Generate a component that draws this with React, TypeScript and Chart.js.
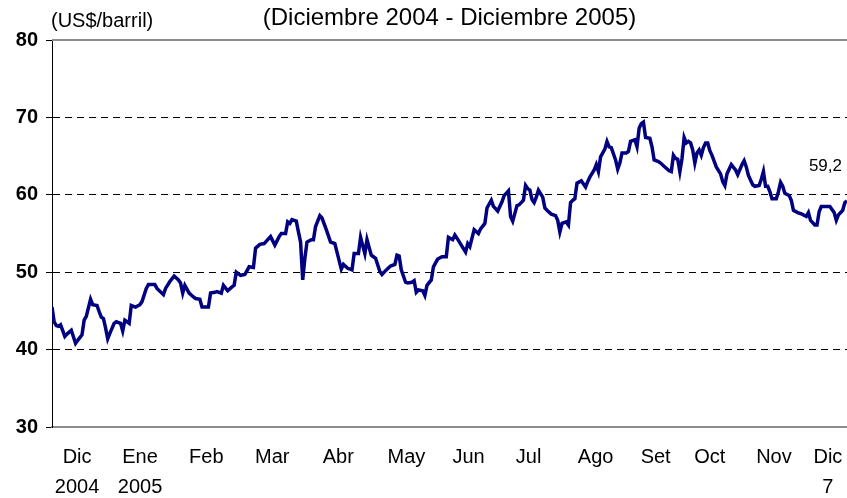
import React, { useEffect, useRef } from 'react';
import { Chart, registerables } from 'chart.js';

Chart.register(...registerables);

// Días transcurridos desde el 1-dic-2004
const dias = [
  0, 1, 2, 3, 4, 6, 7, 9, 11, 12, 14, 15, 16, 18, 19, 21, 22, 23, 24, 25, 26, 27, 29, 30, 32, 33, 34, 36, 37, 39,
  41, 42, 44, 45, 48, 49, 52, 53, 55, 57, 59, 60, 61, 62, 64, 66, 67, 69, 70, 73,
  74, 76, 77, 79, 80, 82, 84, 85, 86, 88, 90, 92, 94, 95, 97, 99, 101, 102, 104, 106, 107, 109, 110, 111, 112, 114,
  115, 116, 117, 118, 119, 121, 122, 123, 125, 126, 128, 130, 132, 133, 135, 136, 138, 140, 141, 143, 144, 146, 147,
  149, 150, 151, 153, 154, 156, 158, 160, 161, 162, 163, 165, 166, 168, 169, 170, 171, 173, 174, 175, 177, 178, 179,
  180, 182, 184, 185, 187, 188, 189, 191, 193, 194, 195, 196, 197, 199, 200, 202, 203, 205, 206, 208, 210, 211, 213,
  214, 215, 217, 218, 220, 221, 222, 223, 224, 225, 226, 227, 229, 230, 231, 233, 235, 236, 237, 238, 240, 241, 242,
  243, 244, 245, 247, 249, 250, 251, 253, 254, 255, 256, 258, 259, 260, 261, 263, 264, 265, 266, 268, 269, 270, 272,
  273, 274, 275, 276, 277, 279, 280, 281, 283, 284, 286, 288, 289, 290, 291, 292, 293, 294, 295, 296, 297, 298, 299,
  300, 301, 302, 303, 304, 305, 306, 307, 308, 310, 312, 313, 314, 315, 317, 319, 320, 322, 323, 324, 325, 327, 328,
  330, 331, 332, 333, 334, 335, 336, 338, 339, 340, 341, 342, 344, 345, 346, 348, 350, 352, 353, 354, 356, 357, 358,
  359, 361, 363, 365, 366, 367, 369, 370, 371,
];

// Precio del petróleo (US$/barril)
const precios = [
  45.5, 43.6, 43.1, 43.0, 43.2, 41.7, 42.0, 42.5, 40.8, 41.2, 41.9, 43.8, 44.3, 46.5, 45.8, 45.7, 44.9, 44.2, 44.0, 42.8,
  41.4, 42.1, 43.4, 43.6, 43.4, 42.4, 43.8, 43.4, 45.7, 45.5,
  45.8, 46.2, 47.9, 48.4, 48.4, 47.9, 47.1, 47.9, 48.8, 49.5, 49.0, 48.6, 47.3, 48.3, 47.3, 46.8, 46.6, 46.5, 45.5, 45.5,
  47.3, 47.4, 47.5, 47.3, 48.3, 47.6, 48.1, 48.3, 50.0, 49.6, 49.7, 50.7, 50.6, 53.1, 53.6, 53.7, 54.3, 54.6, 53.5, 54.6,
  55.0, 55.0, 56.5, 56.3, 56.8, 56.6,
  55.2, 53.9, 49.0, 51.8, 53.9, 54.2, 54.2, 55.9, 57.3, 57.0, 55.5, 53.9, 53.7, 52.6, 50.4, 51.0, 50.5, 50.3, 52.4, 52.4,
  54.5, 52.4, 54.2,
  52.2, 52.0, 51.8, 50.1, 49.7, 50.3, 50.8, 51.0, 52.2, 52.1, 50.3, 48.7, 48.6, 48.7, 48.9, 47.4, 47.7, 47.6, 47.0, 48.3,
  49.0, 50.7, 51.2,
  51.7, 52.0, 52.0, 54.5, 54.2, 54.8, 54.4, 53.5, 52.6, 53.7, 53.3, 54.4, 55.5, 55.0, 55.6, 56.3, 58.3, 59.3, 58.5, 57.9,
  59.1, 59.9, 60.5,
  57.2, 56.6, 58.6, 58.7, 59.3, 61.2, 60.8, 60.6, 59.4, 59.0, 59.7, 60.6, 59.7, 58.3, 58.0, 57.5, 57.3, 56.7, 55.2, 56.3,
  56.5, 56.1, 59.0,
  59.3, 59.5, 61.5, 61.8, 61.0, 61.7, 62.3, 63.2, 63.9, 63.0, 64.9, 65.9, 66.9, 66.2, 66.1, 64.5, 63.3, 64.1, 65.4, 65.4,
  65.6, 66.9, 67.1,
  66.2, 68.6, 69.2, 69.4, 67.4, 67.3, 66.2, 64.5, 64.3, 64.1, 63.6, 63.1, 63.0, 65.1, 64.7, 64.6, 63.0, 64.7, 67.4, 66.7,
  66.9, 66.7, 65.8,
  64.1, 65.4, 65.8, 65.1, 66.1, 66.7, 66.7, 65.7, 65.1, 63.6, 62.7, 61.7, 61.2, 62.7, 63.9, 63.2, 62.6, 63.9, 64.4, 63.6,
  62.5, 61.3, 61.1,
  61.2, 62.0, 63.0, 61.1, 61.1, 60.4, 59.5, 59.5, 60.4, 61.6, 61.1, 60.2, 59.9, 59.3, 58.0, 57.7, 57.5, 57.2, 57.7, 56.7,
  56.1, 56.1, 57.8,
  58.5, 58.5, 58.5, 57.7, 56.7, 57.4, 58.0, 59.0, 59.2,
];

// Marcas del eje X (día) y sus etiquetas
const mesesDia = [11.7, 41.1, 72.0, 102.8, 133.6, 165.4, 194.4, 222.4, 253.7, 281.7, 307.0, 336.9, 362.1];
const mesesEtiqueta = [
  ['Dic', '2004'], ['Ene', '2005'], ['Feb'], ['Mar'], ['Abr'], ['May'], ['Jun'],
  ['Jul'], ['Ago'], ['Set'], ['Oct'], ['Nov'], ['Dic', '7'],
];

const yMin = 30;
const yMax = 80;
const yPaso = 10;

const titulo = '(Diciembre 2004 - Diciembre 2005)';
const unidad = '(US$/barril)';
const etiquetaUltimo = '59,2';

const FONT = '"Liberation Sans", Arial, sans-serif';

const textos = {
  id: 'textos',
  beforeDatasetsDraw(chart: any) {
    const { ctx, chartArea, scales } = chart;
    const yt = scales.y.getPixelForValue(yMax);
    ctx.save();
    ctx.strokeStyle = '#8c8c8c';
    ctx.lineWidth = 2;
    ctx.beginPath();
    ctx.moveTo(chartArea.left, yt);
    ctx.lineTo(chartArea.right, yt);
    ctx.stroke();
    ctx.restore();
  },
  afterDraw(chart: any) {
    const { ctx, chartArea, scales } = chart;
    ctx.save();
    ctx.fillStyle = '#000';
    ctx.textBaseline = 'middle';
    ctx.font = `24px ${FONT}`;
    ctx.textAlign = 'center';
    ctx.fillText(titulo, (chartArea.left + chartArea.right) / 2, 18);
    ctx.font = `20px ${FONT}`;
    ctx.textAlign = 'left';
    ctx.fillText(unidad, chartArea.left - 1, 21);
    const n = dias.length - 1;
    const lx = scales.x.getPixelForValue(dias[n]);
    const ly = scales.y.getPixelForValue(precios[n]);
    ctx.font = `17px ${FONT}`;
    ctx.textAlign = 'right';
    ctx.fillText(etiquetaUltimo, lx - 5, ly - 35);
    ctx.restore();
  },
};

export default function App() {
  const ref = useRef<HTMLCanvasElement>(null);

  useEffect(() => {
    const chart = new Chart(ref.current as HTMLCanvasElement, {
      type: 'line',
      data: {
        datasets: [
          {
            data: dias.map((d, i) => ({ x: d, y: precios[i] })),
            borderColor: '#000080',
            borderWidth: 3.5,
            pointRadius: 0,
            tension: 0,
            fill: false,
          },
        ],
      },
      options: {
        animation: false,
        responsive: false,
        maintainAspectRatio: false,
        devicePixelRatio: 1,
        layout: { padding: { top: 40, left: 0, right: 0, bottom: 0 } },
        plugins: { legend: { display: false }, tooltip: { enabled: false }, title: { display: false } },
        scales: {
          x: {
            type: 'linear',
            min: 0,
            max: dias[dias.length - 1],
            afterBuildTicks: (s: any) => {
              s.ticks = mesesDia.map((v) => ({ value: v }));
            },
            afterFit: (s: any) => {
              s.height = 71;
              s.paddingLeft = 0;
              s.paddingRight = 0;
            },
            grid: { display: false, drawTicks: false },
            border: { display: true, color: '#8c8c8c', width: 2 },
            ticks: {
              autoSkip: false,
              maxRotation: 0,
              minRotation: 0,
              padding: 15,
              color: '#000',
              font: { family: FONT, size: 20, lineHeight: 1.5 },
              callback: (_v: any, i: number) => mesesEtiqueta[i],
            },
          },
          y: {
            type: 'linear',
            min: yMin,
            max: yMax,
            afterFit: (s: any) => {
              s.width = 52;
              s.paddingTop = 0;
              s.paddingBottom = 0;
            },
            ticks: {
              stepSize: yPaso,
              padding: 8,
              color: '#000',
              font: { family: FONT, size: 20, weight: 'bold' },
            },
            grid: {
              color: (c: any) =>
                c.tick && (c.tick.value === yMin || c.tick.value === yMax) ? 'rgba(0,0,0,0)' : '#000',
              lineWidth: 1,
              tickLength: 6,
              tickColor: '#000',
              tickWidth: 1,
            },
            border: { display: true, color: '#000', width: 1, dash: [7, 5] },
          },
        },
      },
      plugins: [textos],
    } as any);
    return () => chart.destroy();
  }, []);

  return (
    <div style={{ position: 'absolute', left: 0, top: 0, width: 847, height: 498, background: '#fff' }}>
      <canvas ref={ref} width={847} height={498} style={{ display: 'block' }} />
    </div>
  );
}
